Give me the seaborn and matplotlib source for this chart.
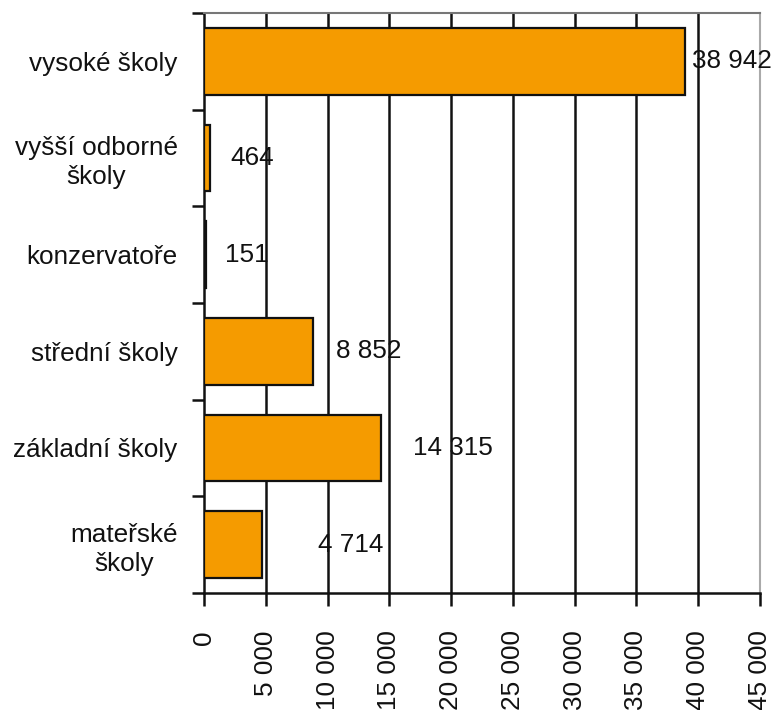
import matplotlib
matplotlib.use("Agg")
import matplotlib.pyplot as plt
import seaborn as sns
import pandas as pd
import numpy as np
from matplotlib.ticker import FixedLocator, FuncFormatter

categories = ["vysoké školy", "vyšší odborné\nškoly", "konzervatoře",
              "střední školy", "základní školy", "mateřské\nškoly"]
values = [38942, 464, 151, 8852, 14315, 4714]
x_ticks = [0, 5000, 10000, 15000, 20000, 25000, 30000, 35000, 40000, 45000]
# label offsets in points (as placed in the original)
label_offsets = [5, 15, 14, 16, 23, 40]

sns.set_theme(style="white")
plt.rcParams['font.family'] = ['Liberation Sans', 'DejaVu Sans']

FS = 18.8

df = pd.DataFrame({"cat": categories, "val": values})

fig = plt.figure(figsize=(7.71, 7.10), dpi=100)
ax = fig.add_axes([0.2646, 0.1648, 0.7211, 0.8169])

sns.barplot(data=df, x="val", y="cat", orient="h", color="#F59B00",
            saturation=1, width=0.69, edgecolor="#111111", linewidth=1.6, ax=ax, zorder=3)

ax.set_xlim(0, 45000)
ax.set_ylim(len(categories) - 0.5, -0.5)

def fmt(v):
    return f"{int(v):,}".replace(",", " ")

for t in x_ticks[1:-1]:
    ax.axvline(t, color="#111111", lw=1.8, zorder=1)

for i, v in enumerate(values):
    ax.annotate(fmt(v), xy=(v, i), xytext=(label_offsets[i], 0),
                textcoords="offset points", ha="left", va="center",
                fontsize=FS, color="#111111", zorder=5)

ax.xaxis.set_major_locator(FixedLocator(x_ticks))
ax.xaxis.set_major_formatter(FuncFormatter(lambda v, p: fmt(v)))
ax.tick_params(axis="x", which="major", length=9, width=1.8, color="#111111",
               direction="out", bottom=True, pad=18, labelsize=FS, labelrotation=90,
               labelcolor="#111111")
for lab in ax.get_xticklabels():
    lab.set_va("top")

ax.set_yticks(range(len(categories)))
ax.set_yticklabels(categories, multialignment="center", fontsize=FS, color="#111111",
                   linespacing=1.25)
ax.tick_params(axis="y", which="major", length=0, pad=19)
ax.yaxis.set_minor_locator(FixedLocator(np.arange(-0.5, len(categories), 1)))
ax.tick_params(axis="y", which="minor", length=9, width=1.8, color="#111111",
               direction="out", left=True)

ax.set_xlabel("")
ax.set_ylabel("")

ax.spines["left"].set_color("#111111")
ax.spines["left"].set_linewidth(1.8)
ax.spines["bottom"].set_color("#111111")
ax.spines["bottom"].set_linewidth(1.8)
ax.spines["top"].set_color("#777777")
ax.spines["top"].set_linewidth(1.5)
ax.spines["right"].set_color("#aaaaaa")
ax.spines["right"].set_linewidth(1.5)

fig.savefig("out.png", dpi=100)
